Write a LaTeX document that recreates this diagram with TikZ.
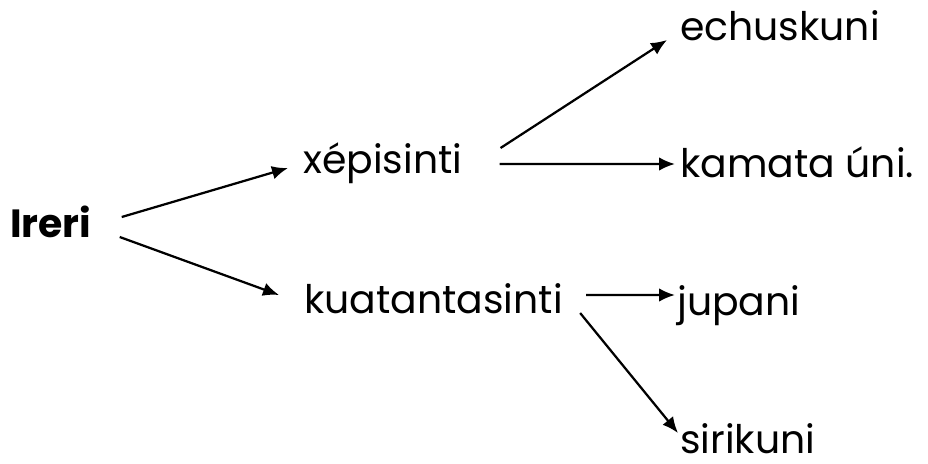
\documentclass[tikz,border=0pt]{standalone}
\usepackage{fontspec}
\setmainfont{Poppins}
\usetikzlibrary{arrows.meta}

\begin{document}
\begin{tikzpicture}[
  word/.style={font=\fontsize{28}{34}\selectfont, inner sep=0pt, anchor=base west},
  link/.style={-{Latex[length=0.4cm, width=0.34cm]}, line width=1.6pt}
]
\useasboundingbox (0,0) rectangle (23.2,-11.6);

\node[word, font=\fontsize{28}{34}\selectfont\bfseries] (ireri) at (0.25,-5.925) {Ireri};
\node[word] (xepis) at (7.575,-4.325) {xépisinti};
\node[word] (kuata) at (7.6,-7.825) {kuatantasinti};
\node[word] (echus) at (17.0,-1.0) {echuskuni};
\node[word] (kamat) at (17.0,-4.425) {kamata úni.};
\node[word] (jupan) at (16.925,-7.875) {jupani};
\node[word] (sirik) at (17.0,-11.325) {sirikuni};

\draw[link] ([xshift=0.75cm, yshift=0.5cm]ireri.base east) -- ([xshift=-0.375cm, yshift=0.125cm]xepis.base west);
\draw[link] ([xshift=0.7cm]ireri.base east) -- ([xshift=-0.625cm, yshift=0.45cm]kuata.base west);

\draw[link] ([xshift=0.95cm, yshift=0.625cm]xepis.base east) -- ([xshift=-0.325cm]echus.base west);
\draw[link] ([xshift=0.925cm, yshift=0.225cm]xepis.base east) -- ([xshift=-0.125cm, yshift=0.325cm]kamat.base west);

\draw[link] ([xshift=0.575cm, yshift=0.45cm]kuata.base east) -- ([xshift=-0.05cm, yshift=0.5cm]jupan.base west);
\draw[link] ([xshift=0.425cm]kuata.base east) -- ([xshift=-0.05cm, yshift=0.5cm]sirik.base west);
\end{tikzpicture}
\end{document}
